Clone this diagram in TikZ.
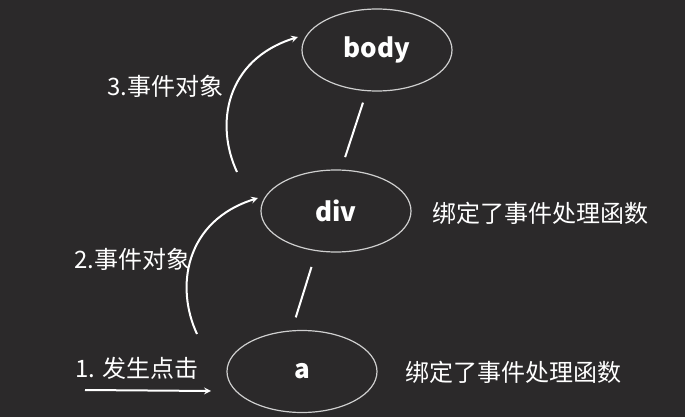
\documentclass[tikz,border=0pt]{standalone}
\usepackage{fontspec}
\newfontfamily\cjk{Noto Sans CJK SC}
\usetikzlibrary{shapes.geometric}

\newlength{\du}
\setlength{\du}{10\unitlength}

\definecolor{dialinebg}{rgb}{0.168627, 0.160784, 0.164706}
\definecolor{dialineellipse}{rgb}{0.811765, 0.811765, 0.811765}

\tikzset{
  state/.style={ellipse, draw=dialineellipse, line width=0.12\du,
    minimum width=15\du, minimum height=8.2\du, inner sep=0pt,
    text=white, font=\cjk\bfseries\fontsize{26}{30}\selectfont},
  txt/.style={anchor=west, inner sep=0pt, text=white,
    font=\cjk\fontsize{24}{28}\selectfont},
  link/.style={draw=white, line width=0.2\du},
  flow/.style={draw=white, line width=0.2\du, -stealth},
}

\begin{document}
\begin{tikzpicture}
\pgftransformxscale{1.000000}
\pgftransformyscale{-1.000000}
\useasboundingbox (0\du,0\du) rectangle (68.5\du,41.7\du);
\fill[dialinebg] (0\du,0\du) rectangle (68.5\du,41.7\du);
% ellipses
\node[state] (body) at (37.7\du,5.0\du){body};
\node[state] (div) at (33.6\du,21.1\du){div};
\node[state] (a) at (30.2\du,37.15\du){a};
% links between the ellipses
\draw[link, shorten <=1.2\du, shorten >=1.3\du] (body.256) -- (div.83);
\draw[link, shorten <=1.65\du, shorten >=1.35\du] (div.244) -- (a.104);
% setfont left to latex
\node[txt] (t3) at (10.7\du,8.6\du){3.事件对象};
\node[txt] (t2) at (7.4\du,25.9\du){2.事件对象};
\node[txt] (t1) at (7.5\du,36.8\du){1. 发生点击};
\node[txt] (hdiv) at (43.2\du,21.3\du){绑定了事件处理函数};
\node[txt] (ha) at (40.5\du,37.2\du){绑定了事件处理函数};
% arrows
\coordinate (s3) at (23.7\du,17.2\du);
\coordinate (e3) at (29.8\du,3.7\du);
\coordinate (s2) at (19.7\du,33.4\du);
\coordinate (e2) at (25.8\du,19.8\du);
\coordinate (s1) at (8.5\du,39.0\du);
\coordinate (e1) at (21.1\du,39.1\du);
\draw[flow] (s3) .. controls +(-2.2\du,-4.7\du) and +(-7.3\du,2.3\du) .. (e3);
\draw[flow] (s2) .. controls +(-2.2\du,-4.7\du) and +(-7.3\du,2.3\du) .. (e2);
\draw[flow] (s1) -- (e1);
\end{tikzpicture}
\end{document}
